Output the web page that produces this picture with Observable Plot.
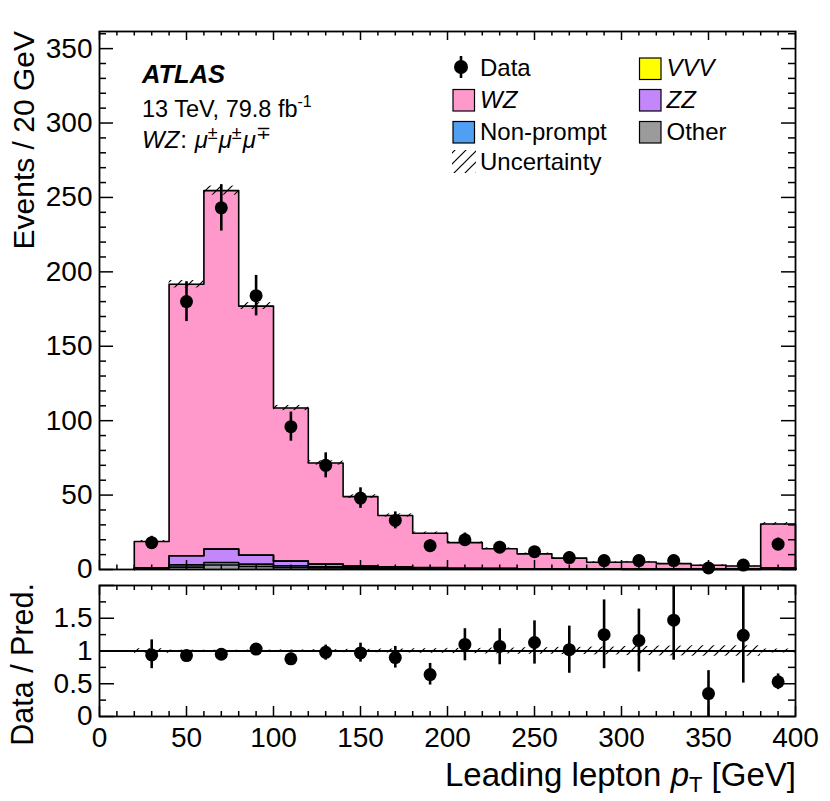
<!DOCTYPE html>
<html><head><meta charset="utf-8">
<script src="https://cdn.jsdelivr.net/npm/d3@7"></script>
<script src="https://cdn.jsdelivr.net/npm/@observablehq/plot@0.6"></script>
<style>
body{margin:0;background:#fff;}
#wrap{position:relative;width:830px;height:801px;overflow:hidden;font-family:"Liberation Sans",Arial,Helvetica,sans-serif;}
#wrap svg{position:absolute;left:0;}
</style></head><body>
<svg width="0" height="0" style="position:absolute">
<defs>
<pattern id="hatch" patternUnits="userSpaceOnUse" width="11" height="11">
<path d="M0,11 L11,0 M-1,1 L1,-1 M10,12 L12,10" stroke="#000" stroke-width="1.2" fill="none"/>
</pattern>
</defs></svg>
<div id="wrap"></div>
<script>
// ---------- data ----------
const binLo = [20,40,60,80,100,120,140,160,180,200,220,240,260,280,300,320,340,360,380];
const binHi = [40,60,80,100,120,140,160,180,200,220,240,260,280,300,320,340,360,380,400];

const wz        = [17.7,182.4,240.8,167.3,102.8,67.9,46.6,34.5,23.1,17.2,13.2,10.0,7.1,4.5,4.8,3.7,2.6,2.1,29.4];
const vvv       = [0.02,0.05,0.08,0.10,0.10,0.08,0.07,0.06,0.05,0.04,0.04,0.03,0.03,0.03,0.02,0.02,0.02,0.02,0.10];
const zz        = [0.5,6.1,9.0,6.0,3.1,1.8,1.2,0.9,0.6,0.4,0.3,0.2,0.2,0.15,0.1,0.1,0.1,0.1,0.5];
const nonprompt = [0.3,1.5,1.7,1.6,1.1,0.7,0.4,0.3,0.2,0.15,0.1,0.1,0.1,0.05,0.05,0.05,0.05,0.05,0.2];
const other     = [0.3,1.6,3.0,2.0,1.4,1.1,0.7,0.5,0.4,0.3,0.3,0.2,0.2,0.15,0.1,0.1,0.1,0.1,0.4];
const uncRel    = [0.035,0.013,0.012,0.013,0.016,0.02,0.025,0.03,0.035,0.04,0.045,0.05,0.055,0.06,0.07,0.075,0.08,0.08,0.03];

const data        = [18,180,243,184,96,70,48,33,16,20,15,12,8,6,6,6,1,3,17];
const dataErrDown = [4.2,13.4,15.6,13.6,9.8,8.4,6.9,5.7,4.0,4.5,3.9,3.5,2.8,2.4,2.4,2.4,0.8,1.6,4.1];
const dataErrUp   = [4.3,13.4,15.6,13.6,9.8,8.4,6.9,5.7,4.0,4.5,3.9,3.5,3.9,3.6,3.6,3.6,2.3,2.9,4.1];

const ratio     = [0.94,0.93,0.95,1.03,0.88,0.98,0.97,0.90,0.64,1.10,1.07,1.13,1.02,1.25,1.16,1.47,0.35,1.24,0.53];
const ratioLow  = [0.73,0.86,0.89,0.96,0.79,0.86,0.83,0.74,0.48,0.85,0.79,0.80,0.66,0.73,0.68,0.86,0.00,0.51,0.41];
const ratioHigh = [1.17,1.00,1.01,1.10,0.97,1.09,1.12,1.07,0.81,1.34,1.34,1.46,1.38,1.78,1.64,2.05,0.70,2.05,0.65];

const xTickLabels = [0,50,100,150,200,250,300,350,400];
const mainYTickLabels = [0,50,100,150,200,250,300,350];
const ratioYTickLabels = [0,0.5,1,1.5];

const compNames  = ["Other","Non-prompt","ZZ","VVV","WZ"];
const compColors = ["#9b9b9b","#519ff2","#c387fb","#ffff00","#ff99cc"];
const compValues = [other, nonprompt, zz, vvv, wz];

// ---------- layout ----------
const W = 830, ML = 99, MR = 35;
const FONT = '"Liberation Sans", Arial, Helvetica, sans-serif';
const mainH = 578, mainMT = 31, mainMB = 9, yMaxMain = 361.5;
const ratH = 223, ratMT = 7, ratMB = 85, ratTop = 578;
const kx = 400 / (W - ML - MR);
const kyM = yMaxMain / (mainH - mainMT - mainMB);
const kyR = 2 / (ratH - ratMT - ratMB);

// ---------- tables ----------
let cum = binLo.map(() => 0);
const layers = compValues.map((vals, k) => {
  const lo = cum.slice();
  const hi = cum.map((v, i) => v + vals[i]);
  cum = hi;
  const pts = binLo.map((x, i) => ({x, y1: lo[i], y2: hi[i]}));
  pts.push({x: binHi[binHi.length - 1], y1: lo[lo.length - 1], y2: hi[hi.length - 1]});
  const outline = [{x: binLo[0], y: 0}, ...pts.map(p => ({x: p.x, y: p.y2})), {x: binHi[binHi.length - 1], y: 0}];
  return {name: compNames[k], color: compColors[k], pts, outline};
});
const total = cum;
const hatchMain = binLo.map((x, i) => ({x1: x, x2: binHi[i], y1: total[i] * (1 - uncRel[i]), y2: total[i] * (1 + uncRel[i])}));
const hatchRatio = binLo.map((x, i) => ({x1: x, x2: binHi[i], y1: 1 - uncRel[i], y2: 1 + uncRel[i]}));
const dataTbl = binLo.map((x, i) => ({xc: (x + binHi[i]) / 2, v: data[i], lo: data[i] - dataErrDown[i], hi: data[i] + dataErrUp[i]}));
const ratioTbl = binLo.map((x, i) => ({xc: (x + binHi[i]) / 2, v: ratio[i], lo: ratioLow[i], hi: ratioHigh[i]}));

function range(a, b, s) { const r = []; for (let v = a; v <= b + 1e-9; v += s) r.push(+v.toFixed(4)); return r; }
function frameTicks(xMaj, xMin, yMaj, yMin, y0, y1, ky, L) {
  const sw = 1.5, out = [];
  const add = (arr, len, dir) => {
    if (dir === "x") {
      out.push(Plot.ruleX(arr, {x: d => d, y1: y0, y2: y0 + len * ky, stroke: "#000", strokeWidth: sw}));
      out.push(Plot.ruleX(arr, {x: d => d, y1: y1 - len * ky, y2: y1, stroke: "#000", strokeWidth: sw}));
    } else {
      out.push(Plot.ruleY(arr, {y: d => d, x1: 0, x2: len * kx, stroke: "#000", strokeWidth: sw}));
      out.push(Plot.ruleY(arr, {y: d => d, x1: 400 - len * kx, x2: 400, stroke: "#000", strokeWidth: sw}));
    }
  };
  add(xMaj, L.xMaj, "x"); add(xMin, L.xMin, "x"); add(yMaj, L.yMaj, "y"); add(yMin, L.yMin, "y");
  return out;
}
const xMajor = range(0, 400, 50);
const xMinor = range(0, 400, 10).filter(v => v % 50 !== 0);

// ---------- main panel ----------
const mainMarks = [];
layers.forEach(L => mainMarks.push(Plot.areaY(L.pts, {x: "x", y1: "y1", y2: "y2", fill: L.color, curve: "step-after"})));
layers.forEach(L => mainMarks.push(Plot.line(L.outline, {x: "x", y: "y", stroke: "#000", strokeWidth: 1.6, curve: "step-after"})));
mainMarks.push(Plot.rect(hatchMain, {x1: "x1", x2: "x2", y1: "y1", y2: "y2", fill: "url(#hatch)"}));
mainMarks.push(Plot.ruleX(dataTbl, {x: "xc", y1: "lo", y2: "hi", stroke: "#000", strokeWidth: 2.6}));
mainMarks.push(Plot.dot(dataTbl, {x: "xc", y: "v", r: 6.5, fill: "#000"}));
mainMarks.push(...frameTicks(xMajor, xMinor, range(0, 350, 50), range(0, 360, 10).filter(v => v % 50 !== 0), 0, yMaxMain, kyM,
  {xMaj: 9, xMin: 4.5, yMaj: 14, yMin: 7}));
mainMarks.push(Plot.frame({stroke: "#000", strokeWidth: 1.8}));
mainMarks.push(Plot.axisY({ticks: mainYTickLabels, tickSize: 0, tickPadding: 7, fontSize: 28, label: null, tickFormat: d => String(d)}));

const mainPlot = Plot.plot({
  width: W, height: mainH, marginLeft: ML, marginRight: MR, marginTop: mainMT, marginBottom: mainMB,
  style: {fontFamily: FONT, color: "#000", background: "transparent", overflow: "visible"},
  x: {domain: [0, 400], axis: null},
  y: {domain: [0, yMaxMain]},
  marks: mainMarks
});

// ---------- ratio panel ----------
const ratioMarks = [
  Plot.rect(hatchRatio, {x1: "x1", x2: "x2", y1: "y1", y2: "y2", fill: "url(#hatch)"}),
  Plot.ruleY([1], {stroke: "#000", strokeWidth: 2}),
  Plot.ruleX(ratioTbl, {x: "xc", y1: "lo", y2: "hi", stroke: "#000", strokeWidth: 2.6, clip: true}),
  Plot.dot(ratioTbl, {x: "xc", y: "v", r: 6.5, fill: "#000", clip: true}),
  ...frameTicks(xMajor, xMinor, range(0, 2, 0.5), [0.25, 0.75, 1.25, 1.75], 0, 2, kyR, {xMaj: 10, xMin: 5, yMaj: 15, yMin: 7}),
  Plot.frame({stroke: "#000", strokeWidth: 1.8}),
  Plot.axisY({ticks: ratioYTickLabels, tickSize: 0, tickPadding: 7, fontSize: 28, label: null, tickFormat: d => String(d)}),
  Plot.axisX({anchor: "bottom", ticks: xTickLabels, tickSize: 0, tickPadding: 11, fontSize: 28, label: null, tickFormat: d => String(d)})
];
const ratioPlot = Plot.plot({
  width: W, height: ratH, marginLeft: ML, marginRight: MR, marginTop: ratMT, marginBottom: ratMB,
  style: {fontFamily: FONT, color: "#000", background: "transparent", overflow: "visible"},
  x: {domain: [0, 400]},
  y: {domain: [0, 2]},
  marks: ratioMarks
});

const wrap = document.getElementById("wrap");
mainPlot.style.top = "0px";
ratioPlot.style.top = ratTop + "px";
wrap.appendChild(mainPlot);
wrap.appendChild(ratioPlot);

// ---------- overlay: labels, titles, legend ----------
const ov = d3.select(wrap).append("svg").attr("width", W).attr("height", 801)
  .style("top", "0px").style("pointer-events", "none").style("font-family", FONT);

function rich(x, y, size, parts, anchor) {
  const t = ov.append("text").attr("x", x).attr("y", y).attr("font-size", size).attr("fill", "#000");
  if (anchor) t.attr("text-anchor", anchor);
  parts.forEach(p => {
    const s = t.append("tspan").text(p.t);
    if (p.i) s.attr("font-style", "italic");
    if (p.b) s.attr("font-weight", "bold");
    if (p.fs) s.attr("font-size", p.fs);
    if (p.dy) s.attr("dy", p.dy);
    if (p.dx) s.attr("dx", p.dx);
  });
  return t;
}
// ATLAS label
rich(142, 83, 25.5, [{t: "ATLAS", i: 1, b: 1}]);
rich(142, 116.5, 23.5, [{t: "13 TeV, 79.8 fb"}, {t: "-1", fs: 16, dy: -10}]);
rich(142, 148, 24, [{t: "WZ", i: 1}, {t: ": ", dx: 1}, {t: "μ", i: 1, dx: 1}, {t: "±", fs: 18, dy: -9},
  {t: "μ", i: 1, dy: 9, dx: 1}, {t: "±", fs: 18, dy: -9}, {t: "μ", i: 1, dy: 9, dx: 1}, {t: "∓", fs: 18, dy: -9}]);

// axis titles
rich(796, 786, 33, [{t: "Leading lepton "}, {t: "p", i: 1}, {t: "T", fs: 22, dy: 6}, {t: " [GeV]", dy: -6}], "end");
rich(0, 0, 30, [{t: "Events / 20 GeV"}], "end").attr("transform", "translate(34,31) rotate(-90)");
rich(0, 0, 30.5, [{t: "Data / Pred."}], "end").attr("transform", "translate(33,583) rotate(-90)");

// legend
const legFS = 24;
ov.append("line").attr("x1", 461).attr("x2", 461).attr("y1", 56).attr("y2", 78).attr("stroke", "#000").attr("stroke-width", 2.6);
ov.append("circle").attr("cx", 461).attr("cy", 67).attr("r", 7).attr("fill", "#000");
rich(480, 75.5, legFS, [{t: "Data"}]);
const legItems = [
  {name: "WZ", it: 1, color: compColors[4], x: 453, y: 89.5},
  {name: "Non-prompt", it: 0, color: compColors[1], x: 453, y: 121.5},
  {name: "VVV", it: 1, color: compColors[3], x: 639.5, y: 58},
  {name: "ZZ", it: 1, color: compColors[2], x: 639.5, y: 89.5},
  {name: "Other", it: 0, color: compColors[0], x: 639.5, y: 121.5}
];
legItems.forEach(d => {
  ov.append("rect").attr("x", d.x).attr("y", d.y).attr("width", 21.5).attr("height", 21.5)
    .attr("fill", d.color).attr("stroke", "#000").attr("stroke-width", 1.2);
  rich(d.x + 27, d.y + 18, legFS, [{t: d.name, i: d.it}]);
});
ov.append("rect").attr("x", 452).attr("y", 150).attr("width", 24).attr("height", 23).attr("fill", "url(#hatch)");
rich(480, 170, legFS, [{t: "Uncertainty"}]);
</script>
</body></html>
